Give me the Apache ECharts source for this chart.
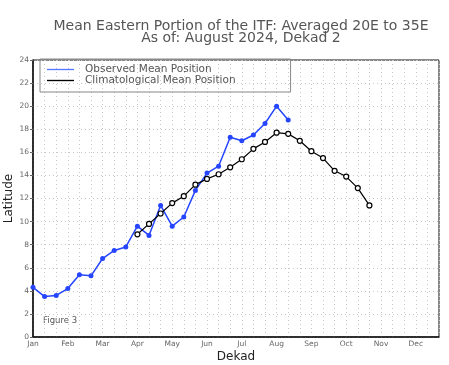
<!DOCTYPE html>
<html>
<head>
<meta charset="utf-8">
<script src="https://cdn.jsdelivr.net/npm/echarts@6/dist/echarts.min.js"></script>
<style>html,body{margin:0;padding:0;background:#fff}#c{width:449px;height:365px}</style>
</head>
<body>
<div id="c"></div>
<script>
// Dekad index (1..36), month tick labels at first dekad of each month
const monthLabels = ['Jan','Feb','Mar','Apr','May','Jun','Jul','Aug','Sep','Oct','Nov','Dec'];
const observedDekads = [1,2,3,4,5,6,7,8,9,10,11,12,13,14,15,16,17,18,19,20,21,22,23];
const observedValues = [4.3,3.5,3.6,4.2,5.4,5.3,6.8,7.5,7.8,9.6,8.8,11.4,9.6,10.4,12.7,14.2,14.8,17.3,17.0,17.5,18.5,20.0,18.8];
const climDekads = [10,11,12,13,14,15,16,17,18,19,20,21,22,23,24,25,26,27,28,29,30];
const climValues = [8.9,9.8,10.7,11.6,12.2,13.2,13.7,14.1,14.7,15.4,16.3,16.9,17.7,17.6,17.0,16.1,15.5,14.4,13.9,12.9,11.4];

const chart = echarts.init(document.getElementById('c'));
const font = 'DejaVu Sans';
chart.setOption({
  animation: false,
  backgroundColor: '#fff',
  title: {
    text: 'Mean Eastern Portion of the ITF: Averaged 20E to 35E\nAs of: August 2024, Dekad 2',
    left: 236, top: 15, textAlign: 'center',
    textStyle: {fontFamily: font, fontSize: 14, fontWeight: 'normal', color: '#555', lineHeight: 12}
  },
  legend: {
    left: 40, top: 59, orient: 'vertical',
    itemWidth: 27, itemHeight: 8, itemGap: 0,
    icon: 'path://M0,3.5H30V5H0Z',
    padding: [5, 55, 6, 7],
    borderColor: '#888', borderWidth: 1,
    textStyle: {fontFamily: font, fontSize: 10.5, color: '#555', padding: [0, 0, 0, 6], lineHeight: 11},
    data: [
      {name: 'Observed Mean Position', itemStyle: {color: '#5a78ff', borderWidth: 0}},
      {name: 'Climatological Mean Position', itemStyle: {color: '#000', borderWidth: 0}}
    ]
  },
  grid: {left: 33, right: 10, top: 60, bottom: 28, show: true, borderColor: '#111', borderWidth: 1, outerBoundsMode: 'none', containLabel: false},
  xAxis: {
    type: 'value', min: 1, max: 36, interval: 1,
    name: 'Dekad', nameLocation: 'middle', nameGap: 14, nameMoveOverlap: false,
    nameTextStyle: {fontFamily: font, fontSize: 12, color: '#222'},
    axisLine: {show: true, lineStyle: {color: '#111', width: 1.5}},
    axisTick: {show: false},
    axisLabel: {
      fontFamily: font, fontSize: 7.5, color: '#666', margin: 3,
      formatter: function (v) { return ((v - 1) % 3 === 0) ? monthLabels[(v - 1) / 3] : ''; }
    },
    splitLine: {show: true, lineStyle: {color: '#c8c8c8', type: [1, 3], width: 1}}
  },
  yAxis: {
    type: 'value', min: 0, max: 24, interval: 2,
    name: 'Latitude', nameLocation: 'middle', nameGap: 18, nameRotate: 90, nameMoveOverlap: false,
    nameTextStyle: {fontFamily: font, fontSize: 12, color: '#222'},
    axisLine: {show: true, lineStyle: {color: '#111', width: 1.5}},
    axisTick: {show: true, length: 3, inside: false, lineStyle: {color: '#666'}},
    axisLabel: {fontFamily: font, fontSize: 7.5, color: '#666', margin: 4},
    splitLine: {show: true, lineStyle: {color: '#c8c8c8', type: [1, 3], width: 1}}
  },
  graphic: [{
    type: 'text', left: 43, top: 316,
    style: {text: 'Figure 3', fontFamily: font, fontSize: 8.5, fill: '#555'}
  }],
  series: [
    {
      name: 'Observed Mean Position', type: 'line',
      data: observedDekads.map((d, i) => [d, observedValues[i]]),
      symbol: 'circle', symbolSize: 5,
      lineStyle: {color: '#2545ff', width: 1.5},
      itemStyle: {color: '#2545ff'}
    },
    {
      name: 'Climatological Mean Position', type: 'line',
      data: climDekads.map((d, i) => [d, climValues[i]]),
      symbol: 'circle', symbolSize: 5,
      lineStyle: {color: '#000', width: 1.2},
      itemStyle: {color: '#fff', borderColor: '#000', borderWidth: 1.2}
    }
  ]
});
</script>
</body>
</html>
